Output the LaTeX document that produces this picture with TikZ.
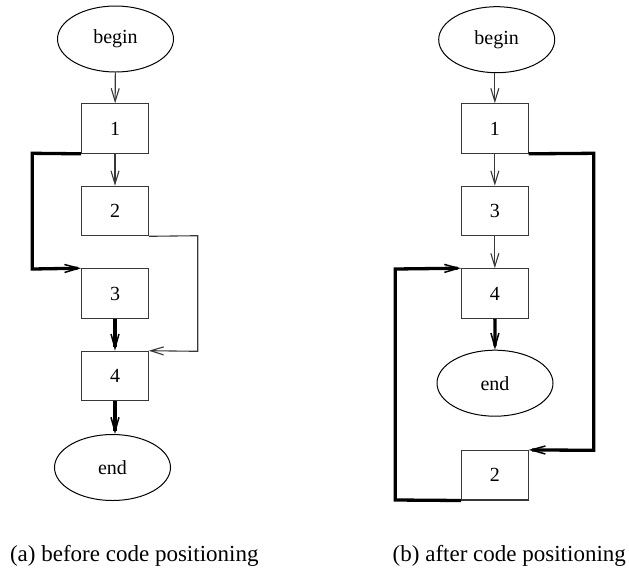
\documentclass[tikz,border=0pt]{standalone}
\usepackage{fontspec}
\setmainfont{Liberation Serif}
\usetikzlibrary{arrows.meta,shapes.geometric}
\definecolor{edgegray}{gray}{0.22}
\tikzset{
  x=1pt, y=-1pt,
  block/.style={draw=edgegray, line width=1.1pt, minimum width=66.5pt, minimum height=49.5pt,
    inner sep=0pt, font=\fontsize{20}{24}\selectfont},
  terminal/.style={ellipse, draw=black, line width=1pt, minimum width=116pt, minimum height=66pt,
    inner sep=0pt, font=\fontsize{20}{24}\selectfont},
  thinflow/.style={draw=edgegray, line width=1.1pt,
    -{Straight Barb[length=13pt,width=8pt,line width=1.1pt]}},
  thickflow/.style={draw=black, line width=3.3pt,
    -{Straight Barb[length=14pt,width=8pt,line width=1.5pt]}},
  caption/.style={anchor=base, inner sep=0pt, font=\fontsize{23}{27}\selectfont}
}
\begin{document}
\begin{tikzpicture}
\useasboundingbox (0,0) rectangle (629,571);

% ---------- (a) before code positioning ----------
\node[terminal] (beginL) at (115.5,39) {begin};
\node[block] (aL1) at (115,128.5) {1};
\node[block] (aL2) at (115,211) {2};
\node[block] (aL3) at (115,293.5) {3};
\node[block] (aL4) at (115,376) {4};
\node[terminal] (endL) at (112.5,467.5) {end};
\coordinate (aJ1) at (32.3,153.3);
\coordinate (aJ2) at (32.3,269);
\coordinate (aJ3) at (197.7,235.7);
\coordinate (aJ4) at (197.7,351.3);

\draw[thinflow] (beginL) -- (aL1);
\draw[thinflow] (aL1) -- (aL2);
\draw[thickflow] (aL1.south west) -- (aJ1) -- (aJ2) -- (aL3.north west);
\draw[thinflow] (aL2.south east) -- (aJ3) -- (aJ4) -- (aL4.north east);
\draw[thickflow] (aL3) -- (aL4);
\draw[thickflow] (aL4) -- (endL.north -| aL4);

\node[caption] (capA) at (134.3,561) {(a) before code positioning};

% ---------- (b) after code positioning ----------
\node[terminal] (beginR) at (496.7,39.7) {begin};
\node[block] (bR1) at (494.85,128.5) {1};
\node[block] (bR3) at (494.85,211) {3};
\node[block] (bR4) at (494.85,293.5) {4};
\node[terminal] (endR) at (495,383.2) {end};
\node[block] (bR2) at (494.85,475.2) {2};
\coordinate (bJ1) at (593.7,153.3);
\coordinate (bJ2) at (593.7,450.3);
\coordinate (bJ3) at (395.3,500);
\coordinate (bJ4) at (395.3,269);

\draw[thinflow] (beginR.south -| bR1) -- (bR1);
\draw[thinflow] (bR1) -- (bR3);
\draw[thinflow] (bR3) -- (bR4);
\draw[thickflow] (bR4) -- (endR);
\draw[thickflow] (bR1.south east) -- (bJ1) -- (bJ2) -- (bR2.north east);
\draw[thickflow] (bR2.south west) -- (bJ3) -- (bJ4) -- (bR4.north west);

\node[caption] (capB) at (509.3,561) {(b) after code positioning};
\end{tikzpicture}
\end{document}
